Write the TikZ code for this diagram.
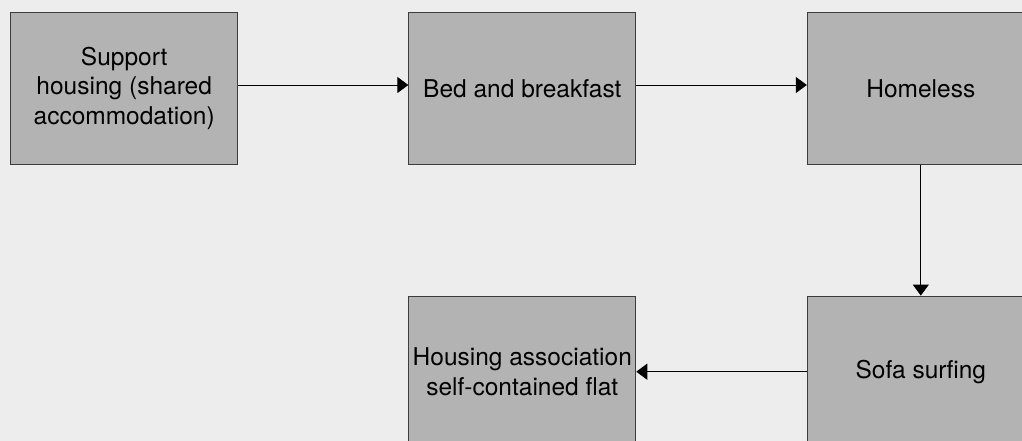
\documentclass[tikz,border=0pt]{standalone}
\usepackage{fontspec}
\setmainfont{TeX Gyre Heros}
\usetikzlibrary{arrows.meta}
\definecolor{bgcol}{RGB}{236,237,236}
\definecolor{boxfill}{RGB}{179,179,180}
\definecolor{boxline}{RGB}{60,60,60}
\tikzset{
  stagebox/.style={draw=boxline, fill=boxfill, line width=0.9pt, minimum width=227pt,
    minimum height=151.3pt, inner sep=0pt, align=center, text=black,
    font=\fontsize{24.5}{29.5}\selectfont},
  flowarrow/.style={draw=black, line width=0.9pt, -{Triangle[length=11pt,width=16pt]}}
}
\begin{document}
\begin{tikzpicture}[x=1pt,y=-1pt]
\useasboundingbox (0,0) rectangle (1022,441);
\clip (0,0) rectangle (1022,441);
\fill[bgcol] (0,0) rectangle (1022,441);
\node[stagebox] (b1) at (124.2,88.4) {Support\\housing (shared\\accommodation)};
\node[stagebox] (b2) at (522.3,88.4) {Bed and breakfast};
\node[stagebox] (b3) at (920.8,88.4) {Homeless};
\node[stagebox] (b4) at (920.8,371.7) {Sofa surfing};
\node[stagebox] (b5) at (522.3,371.7) {Housing association\\self-contained flat};
\draw[flowarrow] ([yshift=3.4pt]b1.east) -- ([yshift=3.4pt]b2.west);
\draw[flowarrow] ([yshift=3.4pt]b2.east) -- ([yshift=3.4pt]b3.west);
\draw[flowarrow] (b3.south) -- (b4.north);
\draw[flowarrow] (b4.west) -- (b5.east);
\end{tikzpicture}
\end{document}
